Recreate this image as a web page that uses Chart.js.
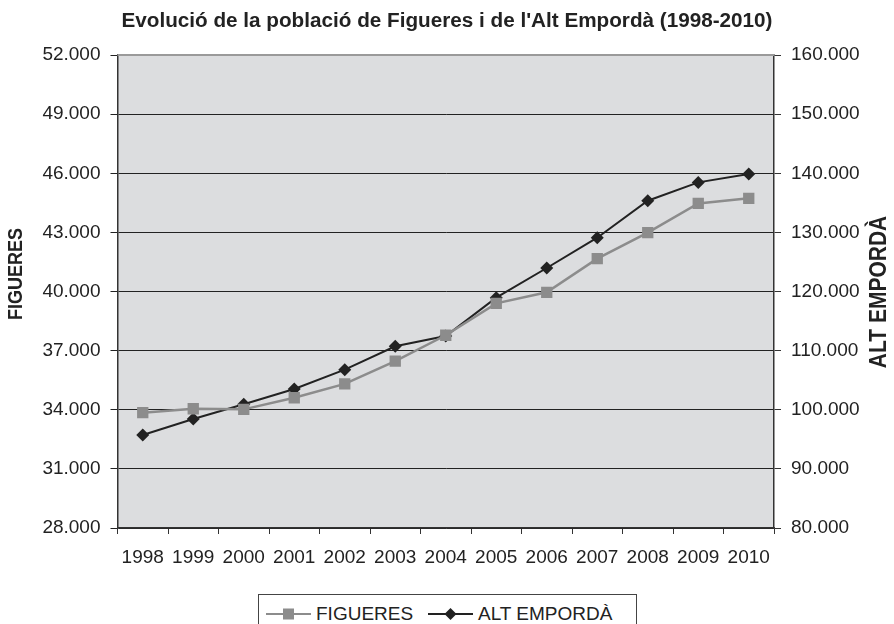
<!DOCTYPE html>
<html>
<head>
<meta charset="utf-8">
<title>Evolució de la població de Figueres i de l'Alt Empordà</title>
<script src="https://cdn.jsdelivr.net/npm/chart.js@4.4.1/dist/chart.umd.min.js"></script>
<style>
    body { margin: 0; background: #fff; overflow: hidden; }
    #wrap { position: relative; width: 894px; height: 624px; }
    #legend {
        position: absolute; left: 258px; top: 594px; width: 377px; height: 40px;
        border: 1px solid #444; background: #fff;
        font-family: 'Liberation Sans', Arial, sans-serif; font-size: 19px; color: #222;
    }
    #legend .item { position: absolute; top: 8px; line-height: 22px; }
    #legend svg { position: absolute; top: 8px; }
</style>
</head>
<body>
<div id="wrap">
    <canvas id="lineChart" width="894" height="624"></canvas>
    <div id="legend">
        <svg style="left:7px" width="45" height="22">
            <line x1="0" y1="11" x2="45" y2="11" stroke="#8c8c8c" stroke-width="2"/>
            <rect x="17" y="5.5" width="11" height="11" fill="#8c8c8c"/>
        </svg>
        <span class="item" style="left:57px">FIGUERES</span>
        <svg style="left:169px" width="45" height="22">
            <line x1="0" y1="11" x2="45" y2="11" stroke="#222" stroke-width="2"/>
            <polygon points="22.5,5 28.5,11 22.5,17 16.5,11" fill="#222"/>
        </svg>
        <span class="item" style="left:219px">ALT EMPORDÀ</span>
    </div>
</div>
<script>
var anys = ['1998', '1999', '2000', '2001', '2002', '2003', '2004', '2005', '2006', '2007', '2008', '2009', '2010'];
var figueres = [33850, 34050, 34020, 34610, 35310, 36470, 37780, 39400, 39960, 41670, 42990, 44470, 44730];
var altEmporda = [95730, 98440, 100920, 103510, 106780, 110730, 112470, 118960, 123980, 129100, 135360, 138460, 139870];

var fontFamily = "'Liberation Sans', Arial, sans-serif";

// format amb punt de milers: 52000 -> 52.000
function formatMilers(value) {
    return String(value).replace(/\B(?=(\d{3})+(?!\d))/g, '.');
}

// títol d'eix girat, una mica estirat com a l'original
function titolVertical(ctx, text, x, y, size) {
    ctx.save();
    ctx.fillStyle = '#222';
    ctx.textAlign = 'center';
    ctx.textBaseline = 'middle';
    ctx.font = 'bold ' + size + 'px ' + fontFamily;
    ctx.translate(x, y);
    ctx.rotate(-Math.PI / 2);
    ctx.scale(1, 1.15);
    ctx.fillText(text, 0, 0);
    ctx.restore();
}

var plotPlugin = {
    id: 'plotPlugin',
    beforeDraw: function (chart) {
        var ctx = chart.ctx;
        var a = chart.chartArea;
        ctx.save();
        ctx.fillStyle = '#dcdddf';
        ctx.fillRect(a.left, a.top, a.right - a.left, a.bottom - a.top);
        ctx.restore();
    },
    beforeDatasetsDraw: function (chart) {
        var ctx = chart.ctx;
        var a = chart.chartArea;
        ctx.save();
        ctx.strokeStyle = '#9a9a9a';
        ctx.lineWidth = 2;
        ctx.beginPath();
        ctx.moveTo(a.left, a.top);
        ctx.lineTo(a.right, a.top);
        ctx.stroke();
        ctx.restore();
    },
    afterDraw: function (chart) {
        titolVertical(chart.ctx, 'FIGUERES', 16, 274, 18);
        titolVertical(chart.ctx, 'ALT EMPORDÀ', 879, 292, 21);
    }
};

var tickFont = { family: fontFamily, size: 19 };

new Chart(document.getElementById('lineChart').getContext('2d'), {
    type: 'line',
    data: {
        labels: anys,
        datasets: [
            {
                label: 'FIGUERES',
                data: figueres,
                yAxisID: 'y',
                borderColor: '#8c8c8c',
                backgroundColor: '#8c8c8c',
                borderWidth: 2.5,
                pointStyle: 'rect',
                pointRadius: 8,
                pointBorderWidth: 0,
                tension: 0
            },
            {
                label: 'ALT EMPORDÀ',
                data: altEmporda,
                yAxisID: 'y1',
                borderColor: '#222',
                backgroundColor: '#222',
                borderWidth: 2,
                pointStyle: 'rectRot',
                pointRadius: 6.5,
                pointBorderWidth: 0,
                tension: 0
            }
        ]
    },
    options: {
        responsive: false,
        animation: false,
        devicePixelRatio: 1,
        layout: { padding: 0 },
        plugins: {
            legend: { display: false },
            tooltip: { enabled: false },
            title: {
                display: true,
                text: "Evolució de la població de Figueres i de l'Alt Empordà (1998-2010)",
                color: '#222',
                font: { family: fontFamily, size: 20.7, weight: 'bold' },
                padding: { top: 8.4, bottom: 21.8 }
            }
        },
        scales: {
            x: {
                offset: true,
                grid: { offset: true, drawOnChartArea: false, tickLength: 6, color: '#333' },
                border: { color: '#333', width: 1.5 },
                ticks: { color: '#222', font: tickFont, padding: 12, maxRotation: 0, autoSkip: false },
                afterFit: function (scale) { scale.height = 96; }
            },
            y: {
                position: 'left',
                min: 28000,
                max: 52000,
                ticks: { stepSize: 3000, color: '#222', font: tickFont, padding: 10, callback: formatMilers },
                grid: { color: '#222', lineWidth: 1, tickLength: 7 },
                border: { color: '#333', width: 1.5 },
                afterFit: function (scale) { scale.width = 117.5; }
            },
            y1: {
                position: 'right',
                min: 80000,
                max: 160000,
                ticks: { stepSize: 10000, color: '#222', font: tickFont, padding: 10, callback: formatMilers },
                grid: { drawOnChartArea: false, color: '#333', tickLength: 7 },
                border: { color: '#333', width: 1.5 },
                afterFit: function (scale) { scale.width = 120; }
            }
        }
    },
    plugins: [plotPlugin]
});
</script>
</body>
</html>
